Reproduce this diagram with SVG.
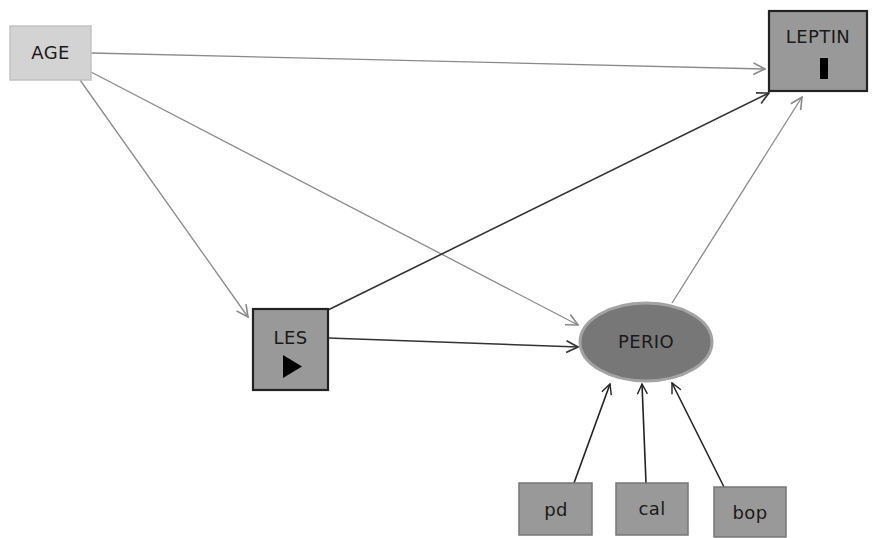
<svg xmlns="http://www.w3.org/2000/svg" width="872" height="538" viewBox="0 0 872 538">
<defs>
<marker id="ag" markerUnits="userSpaceOnUse" markerWidth="14" markerHeight="14" viewBox="0 0 12 12" refX="11" refY="6" orient="auto">
<path d="M1,1 L11,6 L1,11" fill="none" stroke="#8a8a8a" stroke-width="1.4"/>
</marker>
<marker id="ad" markerUnits="userSpaceOnUse" markerWidth="14" markerHeight="14" viewBox="0 0 12 12" refX="11" refY="6" orient="auto">
<path d="M1,1 L11,6 L1,11" fill="none" stroke="#333" stroke-width="1.4"/>
</marker>
<marker id="ab" markerUnits="userSpaceOnUse" markerWidth="12" markerHeight="12" viewBox="0 0 12 12" refX="11" refY="6" orient="auto">
<path d="M1,1 L11,6 L1,11" fill="none" stroke="#222" stroke-width="1.4"/>
</marker>
</defs>
<style>
text{font-family:"DejaVu Sans","Liberation Sans",sans-serif;font-size:18px;letter-spacing:0.4px;fill:#1a1a1a;text-anchor:middle}
.g{stroke:#8a8a8a;stroke-width:1.3;fill:none}
.d{stroke:#333;stroke-width:1.6;fill:none}
.b{stroke:#222;stroke-width:1.6;fill:none}
.box{fill:#999;stroke:#777;stroke-width:1.5}
.dark{fill:#999;stroke:#222;stroke-width:2.2}
</style>
<rect width="872" height="538" fill="#fff"/>
<g id="connectors">
<line class="g" x1="91" y1="53" x2="765" y2="69" marker-end="url(#ag)"/>
<line class="g" x1="80" y1="80" x2="248" y2="317" marker-end="url(#ag)"/>
<line class="g" x1="91" y1="72" x2="578" y2="325" marker-end="url(#ag)"/>
<line class="d" x1="328" y1="310" x2="769" y2="93" marker-end="url(#ad)"/>
<line class="d" x1="328" y1="338" x2="578" y2="347" marker-end="url(#ad)"/>
<line class="g" x1="672" y1="303" x2="802" y2="97" marker-end="url(#ag)"/>
<line class="b" x1="574" y1="483" x2="610" y2="384" marker-end="url(#ab)"/>
<line class="b" x1="646" y1="483" x2="642" y2="384" marker-end="url(#ab)"/>
<line class="b" x1="724" y1="487" x2="672" y2="383" marker-end="url(#ab)"/>
</g>
<g id="age">
<rect x="10" y="26" width="81" height="54" fill="#d3d3d3" stroke="#c2c2c2" stroke-width="1.5"/>
<text x="50.5" y="59">AGE</text>
</g>
<g id="leptin">
<rect class="dark" x="769" y="11" width="98" height="80"/>
<text x="818" y="43">LEPTIN</text>
<rect x="820" y="58" width="8" height="21" fill="#000"/>
</g>
<g id="les">
<rect class="dark" x="253" y="309" width="75" height="81"/>
<text x="290.5" y="344">LES</text>
<polygon points="283,355 283,378 302,366.5" fill="#000"/>
</g>
<g id="perio">
<ellipse cx="646" cy="342" rx="66" ry="39" fill="#777" stroke="#a3a3a3" stroke-width="3"/>
<text x="646" y="348">PERIO</text>
</g>
<g id="pd">
<rect class="box" x="519" y="483" width="73" height="52"/>
<text x="556" y="516">pd</text>
</g>
<g id="cal">
<rect class="box" x="616" y="483" width="72" height="52"/>
<text x="652" y="515">cal</text>
</g>
<g id="bop">
<rect class="box" x="714" y="487" width="72" height="50"/>
<text x="750" y="519">bop</text>
</g>
</svg>
